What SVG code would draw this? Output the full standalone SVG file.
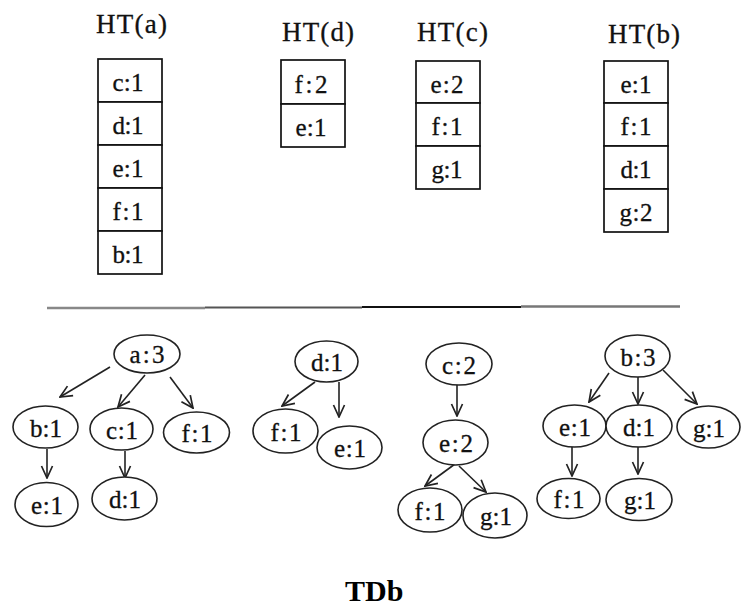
<svg xmlns="http://www.w3.org/2000/svg" width="741" height="607" viewBox="0 0 741 607">
  <defs>
    <marker id="arrow" viewBox="0 0 14 14" refX="13" refY="7" markerWidth="14" markerHeight="14" markerUnits="userSpaceOnUse" orient="auto">
      <path d="M1,1.5 L13,7 L1,12.5" fill="none" stroke="#222" stroke-width="1.7"/>
    </marker>
  </defs>
  <style>
    .label { font-family: "Liberation Serif", "Times New Roman", serif; font-size: 27px; fill: #111; stroke: #111; stroke-width: 0.3; }
    .cell { fill: #fff; stroke: #111; stroke-width: 1.7; }
    .cell-text { font-family: "Liberation Serif", "Times New Roman", serif; font-size: 25px; fill: #111; stroke: #111; stroke-width: 0.3; text-anchor: middle; }
    .node ellipse { fill: #fff; stroke: #222; stroke-width: 1.6; }
    .node text { font-family: "Liberation Serif", "Times New Roman", serif; font-size: 25px; fill: #111; stroke: #111; stroke-width: 0.3; text-anchor: middle; }
    .edge { stroke: #222; stroke-width: 1.6; fill: none; marker-end: url(#arrow); }
    .title { font-family: "Liberation Serif", "Times New Roman", serif; font-size: 30px; font-weight: bold; fill: #000; }
  </style>

  <!-- header tables -->
  <g id="ht-a">
    <text class="label" x="96" y="33" textLength="71" lengthAdjust="spacing">HT(a)</text>
    <rect class="cell" x="98" y="59" width="64" height="43"/>
    <rect class="cell" x="98" y="102" width="64" height="43"/>
    <rect class="cell" x="98" y="145" width="64" height="43"/>
    <rect class="cell" x="98" y="188" width="64" height="43"/>
    <rect class="cell" x="98" y="231" width="64" height="43"/>
    <text class="cell-text" x="128" y="91" textLength="31">c:1</text>
    <text class="cell-text" x="128" y="134" textLength="31">d:1</text>
    <text class="cell-text" x="128" y="177" textLength="31">e:1</text>
    <text class="cell-text" x="128" y="220" textLength="31">f:1</text>
    <text class="cell-text" x="128" y="263" textLength="31">b:1</text>
  </g>

  <g id="ht-d">
    <text class="label" x="282" y="41" textLength="72" lengthAdjust="spacing">HT(d)</text>
    <rect class="cell" x="281" y="60" width="64" height="44"/>
    <rect class="cell" x="281" y="104" width="64" height="43"/>
    <text class="cell-text" x="311" y="93" textLength="33">f:2</text>
    <text class="cell-text" x="311" y="136" textLength="31">e:1</text>
  </g>

  <g id="ht-c">
    <text class="label" x="417" y="41" textLength="71" lengthAdjust="spacing">HT(c)</text>
    <rect class="cell" x="416" y="61" width="64" height="42"/>
    <rect class="cell" x="416" y="103" width="64" height="43"/>
    <rect class="cell" x="416" y="146" width="64" height="43"/>
    <text class="cell-text" x="447" y="93" textLength="33">e:2</text>
    <text class="cell-text" x="447" y="135" textLength="31">f:1</text>
    <text class="cell-text" x="447" y="178" textLength="31">g:1</text>
  </g>

  <g id="ht-b">
    <text class="label" x="608" y="43" textLength="72" lengthAdjust="spacing">HT(b)</text>
    <rect class="cell" x="604" y="61" width="64" height="42"/>
    <rect class="cell" x="604" y="103" width="64" height="43"/>
    <rect class="cell" x="604" y="146" width="64" height="43"/>
    <rect class="cell" x="604" y="189" width="64" height="43"/>
    <text class="cell-text" x="636" y="93" textLength="31">e:1</text>
    <text class="cell-text" x="636" y="135" textLength="31">f:1</text>
    <text class="cell-text" x="636" y="178" textLength="31">d:1</text>
    <text class="cell-text" x="636" y="221" textLength="33">g:2</text>
  </g>

  <!-- divider -->
  <g id="divider">
    <line x1="47" y1="308" x2="205" y2="308" stroke="#888" stroke-width="2.5"/>
    <line x1="205" y1="307.5" x2="362" y2="307.5" stroke="#555" stroke-width="2"/>
    <line x1="362" y1="307" x2="521" y2="307" stroke="#111" stroke-width="1.8"/>
    <line x1="521" y1="306.5" x2="680" y2="306.5" stroke="#777" stroke-width="2.5"/>
  </g>

  <!-- connectors -->
  <g id="connectors">
    <!-- tree a -->
    <line class="edge" x1="110" y1="367" x2="60" y2="397"/>
    <line class="edge" x1="145" y1="375" x2="118" y2="407"/>
    <line class="edge" x1="170" y1="377" x2="193" y2="408"/>
    <line class="edge" x1="47" y1="449" x2="47" y2="478"/>
    <line class="edge" x1="125" y1="451" x2="125" y2="478"/>
    <!-- tree d -->
    <line class="edge" x1="315" y1="382" x2="282" y2="406"/>
    <line class="edge" x1="339" y1="382" x2="339" y2="417"/>
    <!-- tree c -->
    <line class="edge" x1="457" y1="385" x2="457" y2="416"/>
    <line class="edge" x1="455" y1="464" x2="425" y2="486"/>
    <line class="edge" x1="459" y1="466" x2="486" y2="492"/>
    <!-- tree b -->
    <line class="edge" x1="609" y1="373" x2="589" y2="402"/>
    <line class="edge" x1="638" y1="377" x2="638" y2="404"/>
    <line class="edge" x1="663" y1="370" x2="697" y2="404"/>
    <line class="edge" x1="572" y1="447" x2="572" y2="476"/>
    <line class="edge" x1="638" y1="447" x2="638" y2="474"/>
  </g>

  <!-- tree rooted at a -->
  <g id="a3" class="node"><ellipse cx="147" cy="354" rx="33" ry="19"/><text x="147" y="363" textLength="35">a:3</text></g>
  <g id="a-b1" class="node"><ellipse cx="45.5" cy="427" rx="32.5" ry="21"/><text x="46" y="437" textLength="32">b:1</text></g>
  <g id="a-c1" class="node"><ellipse cx="121.5" cy="429" rx="31.5" ry="21"/><text x="122" y="439" textLength="32">c:1</text></g>
  <g id="a-f1" class="node"><ellipse cx="196.5" cy="432.5" rx="33" ry="20.5"/><text x="197" y="442" textLength="31">f:1</text></g>
  <g id="a-e1" class="node"><ellipse cx="46.5" cy="504.5" rx="31.5" ry="22"/><text x="47" y="514" textLength="32">e:1</text></g>
  <g id="a-d1" class="node"><ellipse cx="124.5" cy="498.5" rx="32.5" ry="21.5"/><text x="125" y="508" textLength="32">d:1</text></g>

  <!-- tree rooted at d -->
  <g id="d1" class="node"><ellipse cx="326.5" cy="361.5" rx="31.5" ry="20.5"/><text x="327" y="371" textLength="32">d:1</text></g>
  <g id="d-f1" class="node"><ellipse cx="285.5" cy="431" rx="32.5" ry="22"/><text x="286" y="441" textLength="31">f:1</text></g>
  <g id="d-e1" class="node"><ellipse cx="349.5" cy="447.5" rx="32.5" ry="21.5"/><text x="350" y="457" textLength="32">e:1</text></g>

  <!-- tree rooted at c -->
  <g id="c2" class="node"><ellipse cx="459" cy="364" rx="33" ry="21"/><text x="459" y="374" textLength="34">c:2</text></g>
  <g id="c-e2" class="node"><ellipse cx="455.5" cy="442.5" rx="32.5" ry="22.5"/><text x="456" y="452" textLength="34">e:2</text></g>
  <g id="c-f1" class="node"><ellipse cx="430" cy="510" rx="32" ry="22"/><text x="430" y="520" textLength="31">f:1</text></g>
  <g id="c-g1" class="node"><ellipse cx="495" cy="515.5" rx="32" ry="22.5"/><text x="496" y="525" textLength="32">g:1</text></g>

  <!-- tree rooted at b -->
  <g id="b3" class="node"><ellipse cx="637.5" cy="356" rx="32.5" ry="21"/><text x="638" y="366" textLength="35">b:3</text></g>
  <g id="b-e1" class="node"><ellipse cx="574.5" cy="426" rx="31.5" ry="21"/><text x="575" y="436" textLength="32">e:1</text></g>
  <g id="b-d1" class="node"><ellipse cx="639" cy="426" rx="33" ry="21"/><text x="639" y="436" textLength="32">d:1</text></g>
  <g id="b-g1" class="node"><ellipse cx="708.5" cy="427" rx="31.5" ry="21"/><text x="709" y="437" textLength="32">g:1</text></g>
  <g id="b-f1" class="node"><ellipse cx="568.5" cy="498.5" rx="31.5" ry="20"/><text x="569" y="508" textLength="31">f:1</text></g>
  <g id="b-g1b" class="node"><ellipse cx="639" cy="499.5" rx="33" ry="21"/><text x="640" y="509" textLength="32">g:1</text></g>

  <text id="caption" class="title" x="345" y="601">TDb</text>
</svg>
